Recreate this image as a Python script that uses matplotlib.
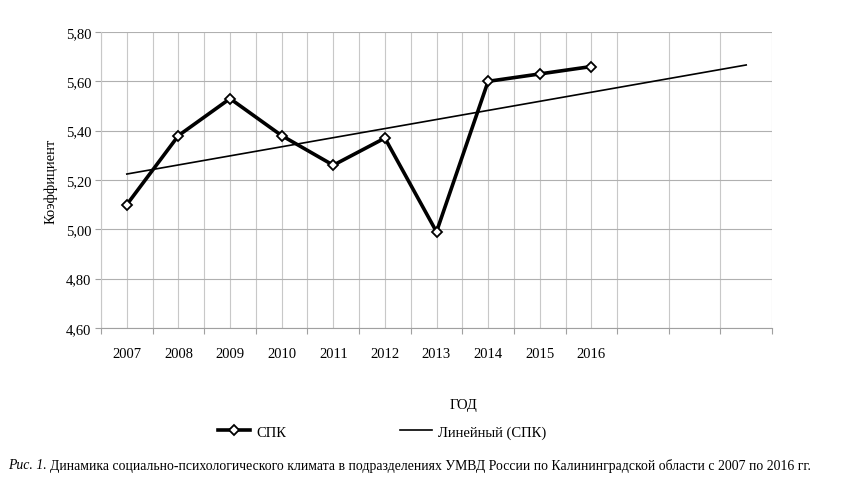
import numpy as np
import matplotlib
matplotlib.use("Agg")
import matplotlib.pyplot as plt
from matplotlib.lines import Line2D

years = ["2007", "2008", "2009", "2010", "2011", "2012", "2013", "2014", "2015", "2016"]
spk = [5.10, 5.38, 5.53, 5.38, 5.26, 5.37, 4.99, 5.60, 5.63, 5.66]
n_forward = 3  # trend line forecast periods
y_ticks = [4.60, 4.80, 5.00, 5.20, 5.40, 5.60, 5.80]

plt.rcParams["font.family"] = ["Liberation Serif", "DejaVu Serif"]

fig = plt.figure(figsize=(8.5, 4.85), dpi=100)
ax = fig.add_axes([101 / 850, 1 - 329 / 485, (772 - 101) / 850, (329 - 33) / 485])

x = np.arange(1, len(spk) + 1)
n_cat = len(spk) + n_forward

# linear trend like Excel, extended forward
k, b = np.polyfit(x, spk, 1)
x_tr = np.array([1, n_cat])
ax.plot(x_tr, k * x_tr + b, color="black", lw=1.2, zorder=3)

ax.plot(x, spk, color="black", lw=2.6, marker="D", ms=5.5,
        mfc="white", mec="black", mew=1.3, zorder=4)

ax.set_xlim(0.5, n_cat + 0.5)
ax.set_ylim(y_ticks[0], y_ticks[-1])
ax.set_yticks(y_ticks)
ax.set_yticklabels([f"{v:.2f}".replace(".", ",") for v in y_ticks])

ax.set_xticks(x)
ax.set_xticklabels(years)
ax.set_xticks(np.arange(0.5, n_cat + 1, 1.0), minor=True)
ax.tick_params(axis="x", which="major", length=0, pad=14, labelsize=10.5)
ax.tick_params(axis="x", which="minor", length=4, color="#a0a0a0", width=0.8)
ax.tick_params(axis="y", length=4, color="#a0a0a0", width=0.8, pad=3, labelsize=10.5)

gc = "#c8c8c8"
ax.grid(axis="y", color="#b0b0b0", lw=0.8)
ax.grid(axis="x", which="both", color=gc, lw=0.8)
ax.set_axisbelow(True)
for side in ["top", "right"]:
    ax.spines[side].set_visible(False)
ax.spines["left"].set_color(gc)
ax.spines["left"].set_linewidth(0.8)
ax.spines["bottom"].set_color("#a0a0a0")
ax.spines["bottom"].set_linewidth(0.8)

ax.set_ylabel("Коэффициент", fontsize=10.5, labelpad=6)
fig.text(463 / 850, 1 - 405 / 485, "ГОД", ha="center", va="center", fontsize=10.5)

handles = [
    Line2D([], [], color="black", lw=2.6, marker="D", ms=5.5, mfc="white", mec="black", mew=1.3),
    Line2D([], [], color="black", lw=1.2),
]
fig.legend(handles, ["СПК", "Линейный (СПК)"], loc="center", bbox_to_anchor=(382 / 850, 1 - 433 / 485),
           ncol=2, frameon=False, fontsize=10.5, handlelength=2.2, columnspacing=7.8, handletextpad=0.4)

fig.text(8 / 850, 1 - 466 / 485, "Рис. 1.", style="italic", ha="left", va="center", fontsize=9.9)
fig.text(50 / 850, 1 - 466 / 485,
         "Динамика социально-психологического климата в подразделениях УМВД России по Калининградской области с 2007 по 2016 гг.",
         ha="left", va="center", fontsize=9.9)

fig.savefig("out.png", dpi=100)
